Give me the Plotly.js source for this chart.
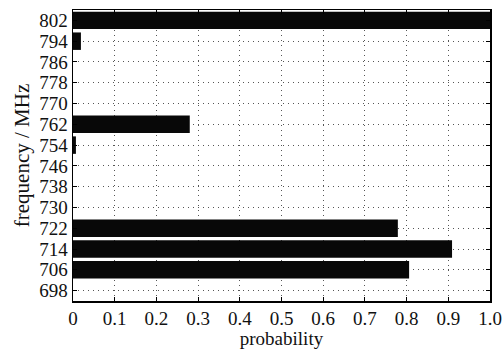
<!DOCTYPE html>
<html><head><meta charset="utf-8">
<script src="https://cdn.plot.ly/plotly-3.0.1.min.js"></script>
<style>html,body{margin:0;padding:0;background:#fff}</style>
</head><body>
<div id="chart" style="width:504px;height:349px"></div>
<script>
const frequencies = ['698','706','714','722','730','738','746','754','762','770','778','786','794','802'];
const probabilities = [0, 0.806, 0.909, 0.779, 0, 0, 0, 0.007, 0.28, 0, 0, 0, 0.019, 1.0];
const xTicks = [0,0.1,0.2,0.3,0.4,0.5,0.6,0.7,0.8,0.9,1.0];
const xTickText = ['0','0.1','0.2','0.3','0.4','0.5','0.6','0.7','0.8','0.9','1.0'];

const font = {family: 'Liberation Serif, Times New Roman, serif', color: '#111', size: 19};
Plotly.newPlot('chart', [{
  type: 'bar', orientation: 'h',
  y: frequencies, x: probabilities,
  width: 0.84,
  marker: {color: '#080808', line: {width: 0}},
  hoverinfo: 'none'
}], {
  width: 504, height: 349,
  margin: {l: 73, r: 14, t: 10, b: 48},
  paper_bgcolor: '#fff', plot_bgcolor: '#fff',
  font: font,
  showlegend: false,
  xaxis: {
    range: [0, 1.0], tickmode: 'array', tickvals: xTicks, ticktext: xTickText,
    showline: true, linecolor: '#000', linewidth: 1.5, mirror: 'ticks',
    ticks: 'inside', ticklen: 4, tickcolor: '#000',
    showgrid: true, gridcolor: '#555', griddash: '1px,4px', gridwidth: 1,
    zeroline: false,
    tickfont: {size: 19},
    title: {text: 'probability', font: {size: 19}, standoff: 0}
  },
  yaxis: {
    type: 'category', categoryorder: 'array', categoryarray: frequencies,
    tickmode: 'array', tickvals: frequencies, ticktext: frequencies,
    range: [-0.5, 13.5],
    showline: true, linecolor: '#000', linewidth: 1.5, mirror: 'ticks',
    ticks: 'inside', ticklen: 4, tickcolor: '#000',
    showgrid: true, gridcolor: '#555', griddash: '1px,4px', gridwidth: 1,
    zeroline: false,
    tickfont: {size: 19},
    title: {text: 'frequency / MHz', font: {size: 21}, standoff: 4}
  }
}, {staticPlot: true, displayModeBar: false});
</script>
</body></html>
